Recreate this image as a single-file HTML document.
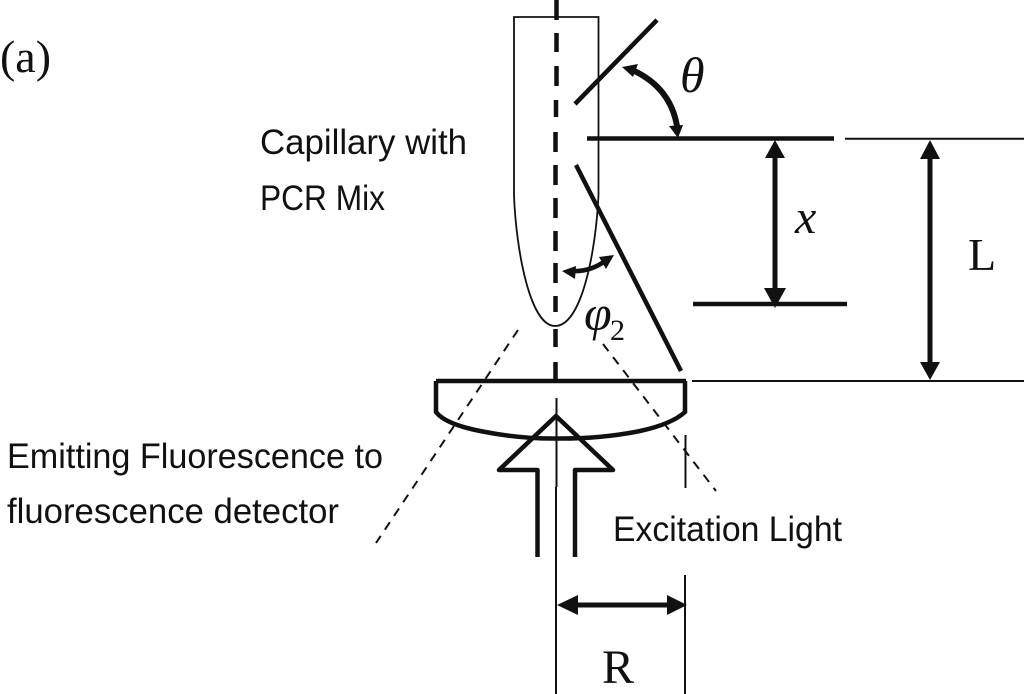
<!DOCTYPE html>
<html>
<head>
<meta charset="utf-8">
<style>
html,body{margin:0;padding:0;background:#fff;width:1024px;height:694px;overflow:hidden}
svg{display:block}
text{fill:#111}
.s{font-family:"Liberation Sans",sans-serif;font-size:35px}
.r{font-family:"Liberation Serif",serif}
</style>
</head>
<body>
<svg width="1024" height="694" viewBox="0 0 1024 694" xmlns="http://www.w3.org/2000/svg">
<g fill="none" stroke="#111" stroke-linecap="butt">
  <!-- capillary -->
  <path d="M514 195V17H598.500V195C596 250 582 326 555 326C530 326 516 250 514 195Z" stroke-width="1.800"/>
  <!-- dashed axis -->
  <path d="M556.500 0V20M556.500 33V52M556.500 66V86M556 100V117M555.500 132V152M555.500 165V185M555.500 198V218M555.500 231V251M555.500 263V283M555.500 296V312M555.500 329V347M555.500 362V380" stroke-width="4.500"/>
  <!-- mirrors / lines -->
  <path d="M575 104L657 20" stroke-width="4.500"/>
  <path d="M587 138.500H834" stroke-width="4.500"/>
  <path d="M576 165L681 371" stroke-width="4.500"/>
  <path d="M693 304H847" stroke-width="4.500"/>
  <path d="M845 138.700H1024M692 381H1024" stroke-width="2"/>
  <!-- lens -->
  <path d="M436 381H686M436 381V412Q445 424 480 431Q520 439 556 438.500Q600 439 640 431Q672 424 685 412V381" stroke-width="4.500"/>
  <!-- thin verticals -->
  <path d="M556.500 398V487M556 487V694" stroke-width="2"/>
  <path d="M685.500 435V488M685 575V694" stroke-width="2"/>
  <!-- dashed thin -->
  <path d="M518 330L376 543" stroke-width="2" stroke-dasharray="9 7.500"/>
  <path d="M603 344L716 491" stroke-width="2" stroke-dasharray="9 7.500"/>
  <!-- excitation arrow -->
  <path d="M537.500 557V470H499L556 416L613 470H575V557" stroke-width="4.500" stroke-linejoin="round"/>
  <!-- dim arrows shafts -->
  <path d="M775 155V290M930 155V365M572 605H672" stroke-width="5"/>
  <!-- theta arc -->
  <path d="M630 69Q670 86 677 126" stroke-width="6"/>
  <!-- phi arc -->
  <path d="M572 271Q590 272 605 261" stroke-width="4.500"/>
</g>
<g fill="#111" stroke="none">
  <path d="M775 140L785 158H765Z"/>
  <path d="M775 308L786 288H764Z"/>
  <path d="M930 140L940 159H920Z"/>
  <path d="M930 380L940 362H920Z"/>
  <path d="M557 605L578 595V615Z"/>
  <path d="M687 605L667 595V615Z"/>
  <path d="M622 67L638 64L633 77Z"/>
  <path d="M678 138L669 126L683 125Z"/>
  <path d="M562 271L576 266L575 279Z"/>
  <path d="M614 255L599 257L606 269Z"/>
</g>
<text class="r" x="0" y="72" font-size="46" textLength="51" lengthAdjust="spacingAndGlyphs">(a)</text>
<text class="s" x="260" y="154" textLength="207" lengthAdjust="spacingAndGlyphs">Capillary with</text>
<text class="s" x="260" y="210" textLength="125" lengthAdjust="spacingAndGlyphs">PCR Mix</text>
<text class="s" x="7" y="468" textLength="376" lengthAdjust="spacingAndGlyphs">Emitting Fluorescence to</text>
<text class="s" x="7" y="523" textLength="332" lengthAdjust="spacingAndGlyphs">fluorescence detector</text>
<text class="s" x="613" y="541" textLength="229" lengthAdjust="spacingAndGlyphs">Excitation Light</text>
<text class="r" x="680" y="92" font-size="50" font-style="italic">θ</text>
<text class="r" x="795" y="233" font-size="48" font-style="italic">x</text>
<text class="r" x="968" y="270" font-size="46">L</text>
<text class="r" x="602" y="683" font-size="48">R</text>
<text class="r" x="584" y="330" font-size="50" font-style="italic">φ</text>
<text class="r" x="610" y="340" font-size="30">2</text>
</svg>
</body>
</html>
